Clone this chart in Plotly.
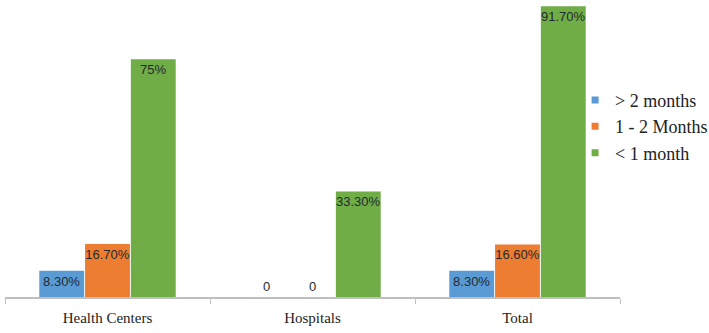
import plotly.graph_objects as go

categories = ["Health Centers", "Hospitals", "Total"]
series_names = ["> 2 months", "1 - 2 Months", "< 1 month"]
over_2_months = [8.3, 0, 8.3]
one_to_2_months = [16.7, 0, 16.6]
under_1_month = [75, 33.3, 91.7]
labels_over_2 = ["8.30%", "0", "8.30%"]
labels_1_2 = ["16.70%", "0", "16.60%"]
labels_under_1 = ["75%", "33.30%", "91.70%"]

colors = ["#5B9BD5", "#ED7D31", "#70AD47"]
SERIF = "Liberation Serif"

fig = go.Figure()
for name, vals, labs, col in zip(
    series_names,
    [over_2_months, one_to_2_months, under_1_month],
    [labels_over_2, labels_1_2, labels_under_1],
    colors,
):
    fig.add_trace(go.Bar(
        x=categories, y=vals, name=name, marker_color=col,
        marker_line_width=0, showlegend=False, legendgroup=name,
        text=labs,
        textposition=["inside" if v > 0 else "outside" for v in vals],
        insidetextanchor="end",
        textangle=0,
        constraintext="none",
        textfont=dict(family="Liberation Sans", size=13, color="#1f2a30"),
        cliponaxis=False,
    ))
# legend entries with small square swatches
for name, col in zip(series_names, colors):
    fig.add_trace(go.Scatter(
        x=[None], y=[None], mode="markers", name=name, legendgroup=name,
        marker=dict(symbol="square", size=7, color=col),
        showlegend=True,
    ))

fig.update_layout(
    width=709, height=333,
    margin=dict(l=5, r=89, t=0, b=36, autoexpand=False),
    paper_bgcolor="white", plot_bgcolor="white",
    barmode="group", bargap=0.33, bargroupgap=0.02,
    showlegend=True,
    legend=dict(
        x=0.927, xanchor="left", y=0.725, yanchor="top",
        font=dict(family=SERIF, size=18, color="#222"),
        bgcolor="rgba(0,0,0,0)", itemwidth=30, tracegroupgap=0,
    ),
    xaxis=dict(
        type="category", range=[-0.5, 2.5],
        showline=True, linecolor="#bfbfbf", linewidth=1.5,
        ticks="outside", tickson="boundaries", ticklen=5, tickcolor="#bfbfbf",
        tickfont=dict(family=SERIF, size=15, color="#222"),
        ticklabelstandoff=6,
        showgrid=False, zeroline=False,
    ),
    yaxis=dict(range=[0, 93.7], visible=False, showgrid=False, zeroline=False),
)

fig.write_html("out.html", post_script="document.body.style.margin='0px';",
               config={"displayModeBar": False})
